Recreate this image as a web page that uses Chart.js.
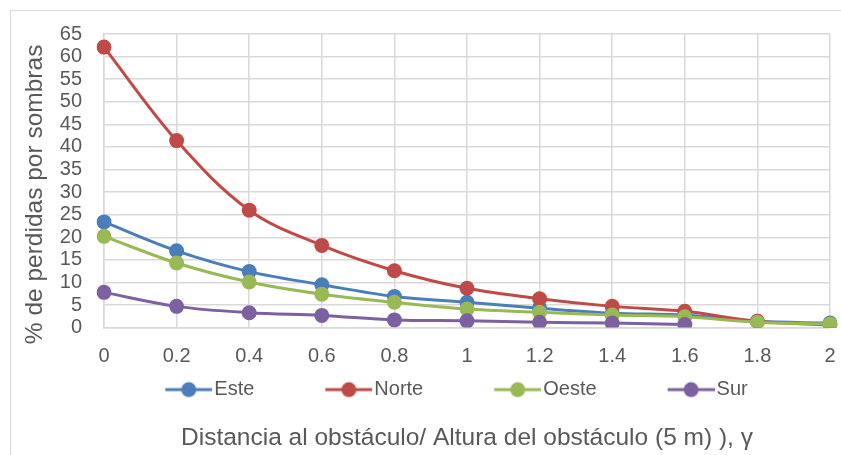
<!DOCTYPE html>
<html>
<head>
<meta charset="utf-8">
<script src="https://cdn.jsdelivr.net/npm/chart.js@4"></script>
<style>
  html, body { margin: 0; padding: 0; background: #fff; overflow: hidden; }
  #frame {
    position: absolute; left: 10px; top: 10px; width: 900px; height: 500px;
    border-left: 1.5px solid #d9d9d9; border-top: 1.5px solid #d9d9d9;
  }
  #wrap { position: absolute; left: 0; top: 0; width: 841px; height: 455px; }
</style>
</head>
<body>
<div id="frame"></div>
<div id="wrap"><canvas id="shadowChart"></canvas></div>
<script>
  const xLabels = ['0', '0.2', '0.4', '0.6', '0.8', '1', '1.2', '1.4', '1.6', '1.8', '2'];
  const este  = [23.4, 17.0, 12.4, 9.5, 6.9, 5.6, 4.3, 3.2, 2.8, 1.4, 1.0];
  const norte = [62.1, 41.4, 26.0, 18.2, 12.6, 8.7, 6.4, 4.7, 3.6, 1.4, 0.6];
  const oeste = [20.2, 14.3, 10.1, 7.4, 5.6, 4.1, 3.4, 2.8, 2.4, 1.2, 0.8];
  const sur   = [7.8, 4.7, 3.3, 2.7, 1.7, 1.5, 1.2, 1.0, 0.7, null, null];

  const seriesNames = ['Este', 'Norte', 'Oeste', 'Sur'];
  const seriesColors = ['#4a7ebb', '#be4b48', '#98b954', '#7d60a0'];

  const textColor = '#595959';
  const gridColor = '#d9d9d9';
  const fontFamily = "'Liberation Sans', Arial, sans-serif";

  // legend marker: line with a dot, like the spreadsheet legend
  const legendW = 110;
  function makeMarker(color) {
    const c = document.createElement('canvas');
    c.width = legendW + 16;
    c.height = 20;
    const g = c.getContext('2d');
    g.strokeStyle = color;
    g.lineWidth = 3;
    g.beginPath();
    g.moveTo(c.width - 47, 10);
    g.lineTo(c.width, 10);
    g.stroke();
    g.fillStyle = color;
    g.beginPath();
    g.arc(c.width - 23.5, 10, 7.5, 0, Math.PI * 2);
    g.fill();
    return c;
  }
  const markers = seriesColors.map(makeMarker);

  const values = [este, norte, oeste, sur];
  const datasets = values.map((vals, i) => ({
    label: seriesNames[i],
    data: vals,
    borderColor: seriesColors[i],
    backgroundColor: seriesColors[i],
    borderWidth: 3,
    tension: 0.35,
    pointRadius: 7.5,
    pointHoverRadius: 7.5,
    pointBorderWidth: 0,
    order: 4 - i
  }));

  new Chart(document.getElementById('shadowChart'), {
    type: 'line',
    data: { labels: xLabels, datasets: datasets },
    options: {
      responsive: true,
      maintainAspectRatio: false,
      animation: false,
      layout: { padding: { left: 12, top: 34, right: 11, bottom: 2 } },
      plugins: {
        legend: {
          position: 'bottom',
          labels: {
            usePointStyle: true,
            pointStyleWidth: legendW,
            padding: 0,
            color: textColor,
            font: { family: fontFamily, size: 20 },
            sort: (a, b) => a.datasetIndex - b.datasetIndex,
            generateLabels: (chart) => {
              const items = Chart.defaults.plugins.legend.labels.generateLabels(chart);
              items.forEach(it => { it.pointStyle = markers[it.datasetIndex]; });
              return items;
            }
          }
        },
        title: {
          display: true,
          position: 'bottom',
          fullSize: false,
          text: 'Distancia al obstáculo/ Altura del obstáculo (5 m) ), γ',
          color: textColor,
          font: { family: fontFamily, size: 24.5, weight: 'normal' },
          padding: { top: 14, bottom: 0 }
        },
        tooltip: { enabled: false }
      },
      scales: {
        x: {
          type: 'category',
          offset: false,
          grid: { color: gridColor, lineWidth: 1.5, drawTicks: true, tickLength: 17, tickColor: 'rgba(0,0,0,0)' },
          border: { color: gridColor, width: 1.5 },
          ticks: {
            color: textColor,
            font: { family: fontFamily, size: 20 },
            padding: 0,
            maxRotation: 0,
            autoSkip: false
          },
          afterFit: (scale) => { scale.height = 52; }
        },
        y: {
          min: 0,
          max: 65,
          grid: { color: gridColor, lineWidth: 1.5, drawTicks: false },
          border: { color: gridColor, width: 1.5 },
          ticks: {
            stepSize: 5,
            autoSkip: false,
            color: textColor,
            font: { family: fontFamily, size: 20 },
            padding: 22
          },
          title: {
            display: true,
            text: '% de perdidas por sombras    ',
            color: textColor,
            font: { family: fontFamily, size: 24.5 },
            padding: { top: 9, bottom: 0 }
          },
          afterFit: (scale) => { scale.width = 92; }
        }
      }
    }
  });
</script>
</body>
</html>
